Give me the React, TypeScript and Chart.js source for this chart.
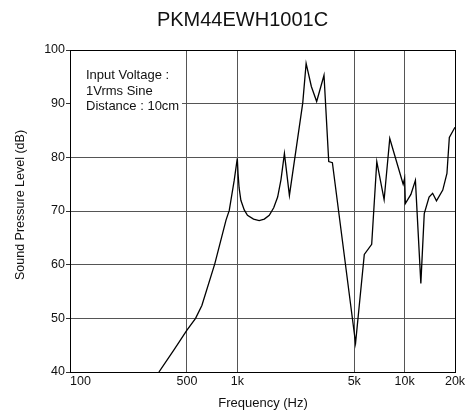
import React, { useEffect, useRef } from "react";
import { Chart, registerables } from "chart.js";

Chart.register(...registerables);

const TITLE = "PKM44EWH1001C";
const X_TITLE = "Frequency (Hz)";
const Y_TITLE = "Sound Pressure Level (dB)";
const NOTE_LINES = ["Input Voltage :", "1Vrms Sine", "Distance : 10cm"];

const xTickValues = [100, 500, 1000, 5000, 10000, 20000];
const xTickLabels = ["      100", "500", "1k", "5k", "10k", "20k"];
const yTickValues = [40, 50, 60, 70, 80, 90, 100];

const frequencies = [
  340, 420, 500, 563, 614, 734, 856, 895, 957, 1000, 1010, 1025, 1050, 1100,
  1150, 1250, 1351, 1450, 1552, 1650, 1742, 1823, 1912, 2048, 2240, 2460, 2578,
  2770, 2980, 3297, 3519, 3700, 5090, 5740, 6355, 6817, 7540, 8150, 9800, 10000,
  10100, 10900, 11600, 12500, 13100, 14000, 14700, 15500, 16900, 17900, 18500,
  20000,
];
const splDb = [
  40, 44.2, 47.8, 50, 52.4, 60.2, 68.3, 70.1, 75.6, 79.8, 77, 74.3, 72, 70.2,
  69.2, 68.5, 68.2, 68.5, 69.2, 70.6, 72.6, 75.8, 80.7, 72.9, 81.3, 90.1, 97.5,
  93.2, 90.4, 95.3, 79.2, 79.0, 45.4, 61.9, 63.8, 79.2, 72.1, 83.5, 75.0, 76.1,
  71.4, 73.1, 75.7, 56.5, 69.5, 72.6, 73.3, 71.9, 73.9, 77.0, 83.7,
  85.6,
];

const FONT = "'Liberation Sans', Arial, Helvetica, sans-serif";

export default function App() {
  const ref = useRef<HTMLCanvasElement | null>(null);

  useEffect(() => {
    const canvas = ref.current;
    if (!canvas) return;

    const textPlugin = {
      id: "textPlugin",
      beforeDatasetsDraw(chart: any) {
        const { ctx, chartArea } = chart;
        ctx.save();
        ctx.fillStyle = "#ffffff";
        ctx.fillRect(chartArea.left + 1, 64, 181 - chartArea.left, 50);
        ctx.fillStyle = "#111";
        ctx.font = `13px ${FONT}`;
        ctx.textAlign = "left";
        ctx.textBaseline = "middle";
        const ys = [75, 91, 106.5];
        NOTE_LINES.forEach((t, i) => ctx.fillText(t, 86, ys[i]));
        ctx.restore();
      },
      afterDraw(chart: any) {
        const { ctx } = chart;
        ctx.save();
        ctx.fillStyle = "#111";
        ctx.textAlign = "center";
        ctx.textBaseline = "middle";
        ctx.font = `20px ${FONT}`;
        ctx.fillText(TITLE, 242.5, 20);
        ctx.font = `13px ${FONT}`;
        ctx.fillText(X_TITLE, 263, 403);
        ctx.translate(21, 205);
        ctx.rotate(-Math.PI / 2);
        ctx.font = `12.5px ${FONT}`;
        ctx.fillText(Y_TITLE, 0, 0);
        ctx.restore();
      },
    };

    const chart = new Chart(canvas, {
      type: "line",
      data: {
        datasets: [
          {
            data: frequencies.map((f, i) => ({ x: f, y: splDb[i] })),
            borderColor: "#000",
            borderWidth: 1.3,
            pointRadius: 0,
            tension: 0,
            fill: false,
          },
        ],
      },
      options: {
        responsive: false,
        animation: false,
        layout: { padding: { top: 50, right: 20, left: 0, bottom: 0 } },
        plugins: {
          legend: { display: false },
          title: { display: false },
          tooltip: { enabled: false },
        },
        scales: {
          x: {
            type: "logarithmic",
            min: 100,
            max: 20000,
            afterBuildTicks: (scale: any) => {
              scale.ticks = xTickValues.map((v) => ({ value: v }));
            },
            afterFit: (scale: any) => {
              scale.height = 45;
            },
            ticks: {
              autoSkip: false,
              maxRotation: 0,
              padding: 2,
              color: "#111",
              font: { size: 12.5, family: FONT },
              callback: (v: any) => {
                const i = xTickValues.indexOf(Number(v));
                return i >= 0 ? xTickLabels[i] : "";
              },
            },
            grid: {
              drawTicks: false,
              color: (c: any) =>
                c.tick && c.tick.value === 20000 ? "#000" : "#555",
              lineWidth: 1,
            },
            border: { color: "#000", width: 1 },
          },
          y: {
            min: 40,
            max: 100,
            afterBuildTicks: (scale: any) => {
              scale.ticks = yTickValues.map((v) => ({ value: v }));
            },
            afterFit: (scale: any) => {
              scale.width = 70;
            },
            ticks: {
              padding: 1,
              color: "#111",
              font: { size: 12.5, family: FONT },
            },
            grid: {
              drawTicks: true,
              tickLength: 4,
              tickColor: "#333",
              color: (c: any) =>
                c.tick && c.tick.value === 100 ? "#000" : "#555",
              lineWidth: 1,
            },
            border: { color: "#000", width: 1 },
          },
        },
      },
      plugins: [textPlugin],
    });

    return () => chart.destroy();
  }, []);

  return (
    <div style={{ position: "absolute", left: 0, top: 0, width: 475, height: 417, background: "#fff" }}>
      <canvas ref={ref} width={475} height={417} style={{ width: 475, height: 417, display: "block" }} />
    </div>
  );
}
